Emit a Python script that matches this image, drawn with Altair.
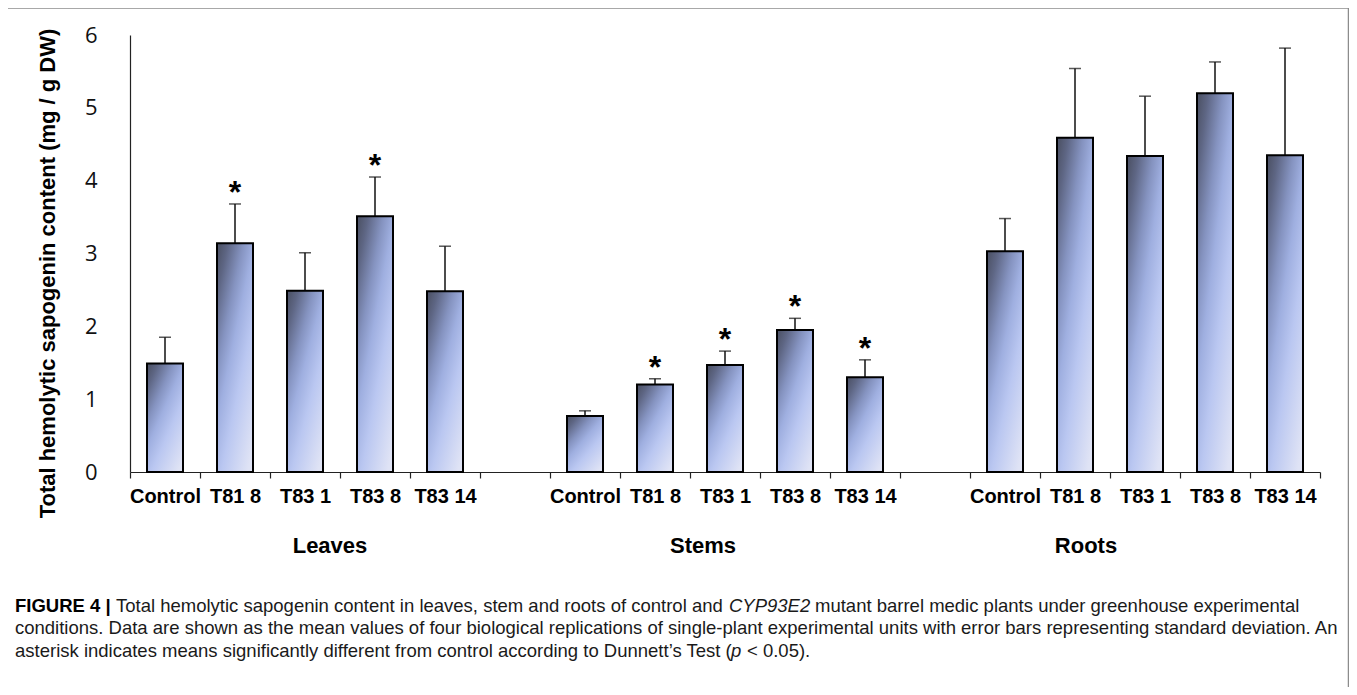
import altair as alt
import pandas as pd

# ---------------- data ----------------
groups = ["Leaves", "Stems", "Roots"]
lines = ["Control", "T81 8", "T83 1", "T83 8", "T83 14"]

leaves_mean = [1.49, 3.14, 2.49, 3.51, 2.48]
leaves_sd = [0.36, 0.54, 0.52, 0.54, 0.62]
leaves_sig = [0, 1, 0, 1, 0]

stems_mean = [0.77, 1.20, 1.47, 1.95, 1.30]
stems_sd = [0.07, 0.08, 0.19, 0.16, 0.24]
stems_sig = [0, 1, 1, 1, 1]

roots_mean = [3.03, 4.59, 4.34, 5.20, 4.35]
roots_sd = [0.45, 0.95, 0.82, 0.43, 1.47]
roots_sig = [0, 0, 0, 0, 0]

y_ticks = [0, 1, 2, 3, 4, 5, 6]
y_title = "Total hemolytic sapogenin content (mg / g DW)"

caption_l1a = "FIGURE 4 |"
caption_l1b = "Total hemolytic sapogenin content in leaves, stem and roots of control and"
caption_l1c = "CYP93E2"
caption_l1d = "mutant barrel medic plants under greenhouse experimental"
caption_l2 = ("conditions. Data are shown as the mean values of four biological replications of "
              "single-plant experimental units with error bars representing standard deviation. An")
caption_l3a = "asterisk indicates means significantly different from control according to Dunnett\u2019s Test ("
caption_l3b = "p"
caption_l3c = "< 0.05)."

# ---------------- build table ----------------
rows = []
for g, means, sds, sigs in [
    ("Leaves", leaves_mean, leaves_sd, leaves_sig),
    ("Stems", stems_mean, stems_sd, stems_sig),
    ("Roots", roots_mean, roots_sd, roots_sig),
]:
    for ln, m, s, k in zip(lines, means, sds, sigs):
        rows.append({"slot": f"{ln}|{g}", "line": ln, "group": g,
                     "mean": m, "top": round(m + s, 3), "sig": "*" if k else ""})
df = pd.DataFrame(rows)

slots = ([f"{ln}|Leaves" for ln in lines] + ["|gap1"] +
         [f"{ln}|Stems" for ln in lines] + ["|gap2"] +
         [f"{ln}|Roots" for ln in lines])

W, H = 1190, 437

x_enc = alt.X(
    "slot:N",
    scale=alt.Scale(domain=slots, paddingInner=0, paddingOuter=0),
    axis=alt.Axis(
        title=None,
        labelExpr="isString(datum.value) ? split(datum.value, '|')[0] : ''",
        tickBand="extent",
        tickSize=6,
        tickColor="#222222",
        tickWidth=1.2,
        domainColor="#222222",
        domainWidth=1.2,
        labelFont="Liberation Sans",
        labelFontWeight="bold",
        labelFontSize=20,
        labelColor="#000000",
        labelPadding=8,
        labelAngle=0,
        labelOverlap=False,
    ),
)

y_scale = alt.Scale(domain=[0, 6], nice=False, zero=True)
y_axis = alt.Axis(
    values=y_ticks,
    format="d",
    grid=False,
    ticks=False,
    domainColor="#222222",
    domainWidth=1.2,
    labelFont="Open Sans",
    labelFontSize=22,
    labelColor="#111111",
    labelPadding=33,
    title=y_title,
    titleFont="Liberation Sans",
    titleFontWeight="bold",
    titleFontSize=22,
    titleColor="#000000",
    titleAngle=270,
    titleX=-83,
    titleY=238,
    titleAlign="center",
    titleBaseline="middle",
)

gradient = alt.LinearGradient(
    gradient="linear",
    x1=0.1, y1=0.0, x2=0.85, y2=1.0,
    stops=[
        alt.GradientStop(offset=0.0, color="#50566c"),
        alt.GradientStop(offset=0.1, color="#5e6684"),
        alt.GradientStop(offset=0.3, color="#8593c0"),
        alt.GradientStop(offset=0.45, color="#9fafe0"),
        alt.GradientStop(offset=0.65, color="#bac7f1"),
        alt.GradientStop(offset=1.0, color="#dfe3f5"),
    ],
)

base = alt.Chart(df)

err_rule = base.mark_rule(color="#111111", strokeWidth=1.5).encode(
    x=x_enc, y=alt.Y("mean:Q", scale=y_scale, axis=y_axis), y2="top:Q"
)
err_cap = base.mark_tick(color="#111111", size=12, thickness=1.5).encode(
    x=x_enc, y=alt.Y("top:Q", scale=y_scale)
)
bars = base.mark_bar(size=36, color=gradient, stroke="#000000", strokeWidth=2).encode(
    x=x_enc, y=alt.Y("mean:Q", scale=y_scale), y2=alt.datum(0)
)
stars = base.mark_text(
    font="Liberation Sans", fontWeight="bold", fontSize=32, baseline="alphabetic",
    align="center", dy=-1, color="#000000"
).encode(x=x_enc, y=alt.Y("top:Q", scale=y_scale), text="sig:N")

one = pd.DataFrame({"k": [0]})


def label(txt, px, py, size=22, weight="bold", style="normal", align="center",
          font="Liberation Sans", color="#000000"):
    return alt.Chart(one).mark_text(
        text=txt, font=font, fontSize=size, fontWeight=weight, fontStyle=style,
        align=align, baseline="middle", color=color
    ).encode(x=alt.value(px), y=alt.value(py))


ox, oy = 130, 35  # plot origin on the page
group_labels = [
    label("Leaves", 330 - ox, 546 - oy),
    label("Stems", 703 - ox, 546 - oy),
    label("Roots", 1086 - ox, 546 - oy),
]

cap_size = 18.5
cap_color = "#1a1a1a"
caption = [
    label(caption_l1a, 15 - ox, 606 - oy, size=cap_size, weight="bold", align="left", color="#000000"),
    label(caption_l1b, 116 - ox, 606 - oy, size=cap_size, weight="normal", align="left", color=cap_color),
    label(caption_l1c, 729 - ox, 606 - oy, size=cap_size, weight="normal", style="italic", align="left", color=cap_color),
    label(caption_l1d, 815 - ox, 606 - oy, size=cap_size, weight="normal", align="left", color=cap_color),
    label(caption_l2, 15 - ox, 628 - oy, size=cap_size, weight="normal", align="left", color=cap_color),
    label(caption_l3a, 15 - ox, 651 - oy, size=cap_size, weight="normal", align="left", color=cap_color),
    label(caption_l3b, 731 - ox, 651 - oy, size=cap_size, weight="normal", style="italic", align="left", color=cap_color),
    label(caption_l3c, 747 - ox, 651 - oy, size=cap_size, weight="normal", align="left", color=cap_color),
]

border = alt.Chart(one).mark_rect(
    fillOpacity=0, stroke="#8c8c8c", strokeWidth=1.5
).encode(
    x=alt.value(7 - ox), x2=alt.value(1348.5 - ox),
    y=alt.value(8 - oy), y2=alt.value(720 - oy)
)

chart = alt.layer(
    err_rule, err_cap, bars, stars, *group_labels, *caption, border
).properties(
    width=W, height=H,
    padding={"left": 122, "top": 27, "right": 29, "bottom": 215},
    autosize=alt.AutoSizeParams(type="none"),
    background="white",
).configure_view(stroke=None)

chart.save("out.html", embed_options={"renderer": "svg", "actions": False})
